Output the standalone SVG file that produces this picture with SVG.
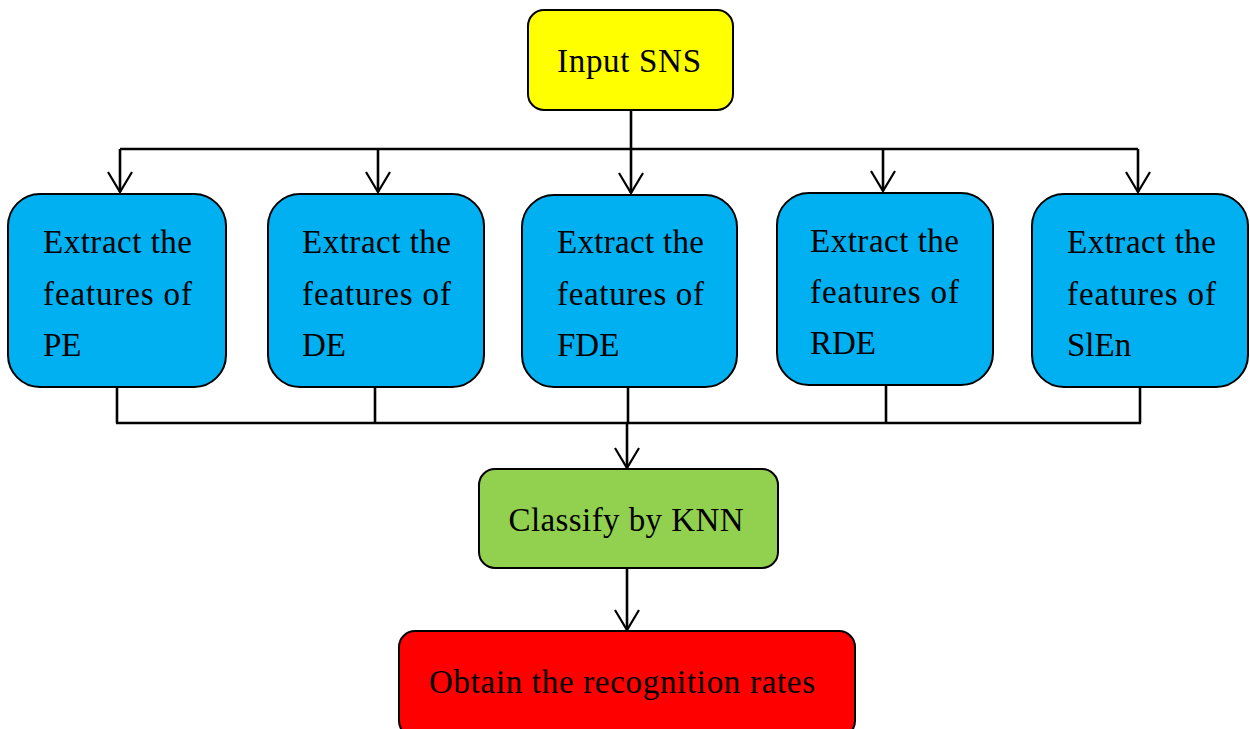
<svg xmlns="http://www.w3.org/2000/svg" width="1250" height="729" viewBox="0 0 1250 729">
<defs>
<marker id="arr" markerUnits="userSpaceOnUse" markerWidth="30" markerHeight="30" refX="0" refY="0" orient="auto" overflow="visible">
<path d="M-20,-12 L0,0 L-20,12" fill="none" stroke="#000" stroke-width="2.2"/>
</marker>
<style>
.box{stroke:#000;stroke-width:2}
.t{font-family:"Liberation Serif","Times New Roman",serif;font-size:33px;fill:#000}
.c{text-anchor:middle}
.ln{fill:none;stroke:#000;stroke-width:2.6}
</style>
</defs>
<rect width="1250" height="729" fill="#fff"/>
<g id="connectors">
<path class="ln" d="M631,110 V149 M120,149 H1138"/>
<path class="ln" d="M120,149 V192" marker-end="url(#arr)"/>
<path class="ln" d="M378,149 V192" marker-end="url(#arr)"/>
<path class="ln" d="M631,149 V193" marker-end="url(#arr)"/>
<path class="ln" d="M883,149 V191" marker-end="url(#arr)"/>
<path class="ln" d="M1138,149 V192" marker-end="url(#arr)"/>
<path class="ln" d="M117,387 V423 M375,387 V423 M628,387 V423 M886,385 V423 M1140,387 V423 M116,423 H1141"/>
<path class="ln" d="M627,423 V468" marker-end="url(#arr)"/>
<path class="ln" d="M627,568 V630" marker-end="url(#arr)"/>
</g>
<g id="input">
<rect class="box" x="528" y="10" width="205" height="100" rx="16" fill="#FFFF00"/>
<text class="t c" x="629" y="72" textLength="144">Input SNS</text>
</g>
<g id="pe">
<rect class="box" x="8" y="194" width="218" height="193" rx="32" fill="#00B0F0"/>
<text class="t" x="43" y="253" textLength="149">Extract the</text>
<text class="t" x="43" y="305" textLength="149">features of</text>
<text class="t" x="43" y="356">PE</text>
</g>
<g id="de">
<rect class="box" x="268" y="194" width="216" height="193" rx="32" fill="#00B0F0"/>
<text class="t" x="302" y="253" textLength="149">Extract the</text>
<text class="t" x="302" y="305" textLength="149">features of</text>
<text class="t" x="302" y="356">DE</text>
</g>
<g id="fde">
<rect class="box" x="522" y="195" width="215" height="192" rx="32" fill="#00B0F0"/>
<text class="t" x="557" y="253" textLength="147">Extract the</text>
<text class="t" x="557" y="305" textLength="147">features of</text>
<text class="t" x="557" y="356">FDE</text>
</g>
<g id="rde">
<rect class="box" x="777" y="193" width="216" height="192" rx="32" fill="#00B0F0"/>
<text class="t" x="810" y="252" textLength="149">Extract the</text>
<text class="t" x="810" y="303" textLength="149">features of</text>
<text class="t" x="810" y="354">RDE</text>
</g>
<g id="slen">
<rect class="box" x="1032" y="194" width="216" height="193" rx="32" fill="#00B0F0"/>
<text class="t" x="1067" y="253" textLength="149">Extract the</text>
<text class="t" x="1067" y="305" textLength="149">features of</text>
<text class="t" x="1067" y="356">SlEn</text>
</g>
<g id="knn">
<rect class="box" x="479" y="469" width="299" height="99" rx="16" fill="#92D050"/>
<text class="t c" x="626" y="531" textLength="235">Classify by KNN</text>
</g>
<g id="rates">
<rect class="box" x="399" y="631" width="456" height="106" rx="16" fill="#FF0000"/>
<text class="t c" x="622" y="693" textLength="386">Obtain the recognition rates</text>
</g>
</svg>
